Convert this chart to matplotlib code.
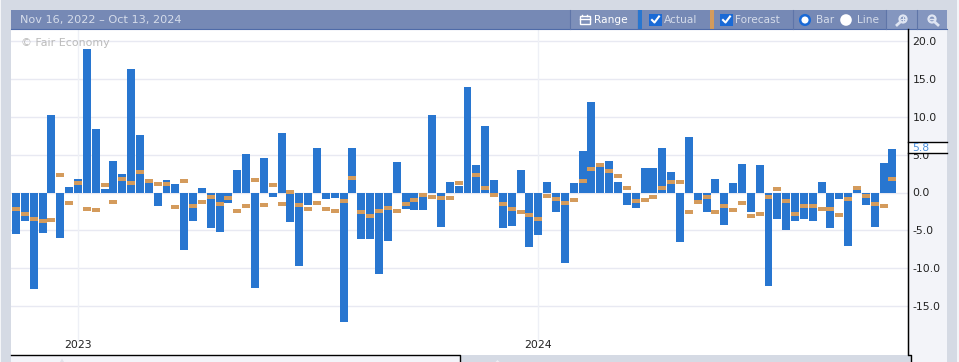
import matplotlib
matplotlib.use('Agg')
import matplotlib.pyplot as plt
from matplotlib.patches import Rectangle, Circle, Polygon
import numpy as np

# Valores
actual = [-5.5, -3.8, -12.7, -5.35, 10.2, -6.0, 0.7, 1.8, 18.9, 8.4,
          0.5, 4.15, 2.4, 16.3, 7.6, 1.3, -1.8, 1.65, 1.1, -7.6,
          -3.8, 0.6, -4.7, -5.2, -1.4, 2.95, 5.05, -12.6, 4.5, -0.6,
          7.85, -3.9, -9.7, -1.65, 5.85, -0.9, -0.75, -17.1, 5.85, -6.15,
          -6.15, -10.75, -6.4, 4.0, -2.2, -2.3, -2.3, 10.2, -4.6, 1.4,
          0.85, 13.9, 3.6, 8.8, 1.65, -4.7, -4.4, 2.95, -7.2, -5.6,
          1.4, -2.55, -9.3, 1.25, 5.45, 11.95, 3.4, 4.15, 1.4, -1.65,
          -2.05, 3.2, 3.2, 5.85, 2.7, -6.55, 7.3, -1.0, -2.55, 1.8,
          -4.3, 1.25, 3.75, -2.55, 3.6, -12.35, -3.5, -4.95, -3.75, -3.5,
          -3.75, 1.4, -4.7, -0.85, -7.05, 0.3, -1.65, -4.6, 3.85, 5.8]
forecast = [-2.2, -2.85, -3.5, -3.75, -3.6, 2.3, -1.4, 1.25, -2.2, -2.3,
            1.0, -1.25, 1.8, 1.25, 2.7, 1.5, 1.1, 1.1, -1.9, 1.5,
            -1.8, -1.25, -0.6, -1.5, -0.7, -2.45, -1.8, 1.65, -1.65, 1.0,
            -1.5, 0.05, -1.65, -2.2, -1.4, -2.2, -2.45, -1.1, 1.9, -2.6,
            -3.1, -2.45, -2.05, -2.45, -1.5, -1.0, -0.35, -0.6, -0.75, -0.75,
            1.25, np.nan, 2.3, 0.6, -0.3, -1.5, -2.15, -2.55, -2.95, -3.5,
            -0.45, -0.85, -1.4, -1.0, 1.5, 3.1, 3.6, 2.85, 2.2, 0.6,
            -1.1, -1.0, -0.6, 0.6, 1.4, 1.4, -2.55, -1.25, -0.6, -2.55,
            -1.8, -2.3, -1.4, -3.1, -2.85, -0.6, 0.45, -1.1, -2.85, -1.8,
            -1.8, -2.2, -2.2, -2.95, -0.85, 0.6, -0.45, -1.5, -1.8, 1.8]
y_ticks = [20, 15, 10, 5, 0, -5, -10, -15]
year_pos = [7, 59]
year_labels = ['2023', '2024']
date_range = 'Nov 16, 2022 \u2013 Oct 13, 2024'
last_value = '5.8'

BG = '#d5dae4'
PANEL = '#f3f4f9'
TOOLBAR = '#7689b5'
BUTTON = '#8496bf'
TXT = '#d5dcea'
BLUE = '#2876d0'
ORANGE = '#d49b5c'
GRID = '#e8e9f2'
W, H = 959, 362

fig = plt.figure(figsize=(W / 100, H / 100), dpi=100, facecolor=BG)

# Fondo y paneles, en pixeles
bg = fig.add_axes([0, 0, 1, 1], zorder=0)
bg.set_xlim(0, W)
bg.set_ylim(H, 0)
bg.axis('off')
bg.add_patch(Rectangle((0, 0), 1, H, fc='#f4f5f8', ec='none'))
bg.add_patch(Rectangle((957, 0), 2, H, fc='#f4f5f8', ec='none'))
bg.add_patch(Rectangle((908, 29), 39, 326, fc=PANEL, ec='none'))
bg.add_patch(Rectangle((911, 355), 36, 7, fc=PANEL, ec='none'))
bg.add_patch(Rectangle((11, 355), 449, 7, fc=PANEL, ec='none'))
bg.add_patch(Polygon([[60, 362], [62, 358.5], [64, 362]], fc='#dfe2ea', ec='none'))
bg.add_patch(Polygon([[495.5, 362], [497.5, 360], [499.5, 362]], fc='#eceef3', ec='none'))

# Grafico principal
ax = fig.add_axes([11 / W, 1 - 355 / H, 896.5 / W, 325 / H], zorder=1)
x = np.arange(len(actual))
ax.bar(x, actual, width=0.9, color=BLUE, zorder=2)
ax.bar(x, [0.53] * len(x), bottom=np.array(forecast) - 0.265, width=0.9, color=ORANGE, zorder=3)
for p in year_pos:
    ax.axvline(p, ymin=0.045, color='#eef0f6', lw=1, zorder=1)
ax.set_xlim(-0.565, 100.7)
ax.set_ylim(-21.44, 21.44)
ax.yaxis.tick_right()
ax.set_yticks(y_ticks, [f'{v:.1f}' for v in y_ticks])
ax.set_xticks(year_pos, year_labels)
ax.tick_params(axis='y', length=0, pad=3.6, labelsize=7.8, labelcolor='#222222')
ax.tick_params(axis='x', length=0, pad=-10.5, labelsize=7.8, labelcolor='#222222')
ax.grid(axis='y', color=GRID, lw=1, zorder=1)
ax.set_axisbelow(True)
for s in ['top', 'left']:
    ax.spines[s].set_visible(False)
ax.spines['right'].set_color('black')
ax.spines['bottom'].set_visible(False)

# Barra de herramientas y detalles, en pixeles
top = fig.add_axes([0, 0, 1, 1], zorder=2)
top.set_xlim(0, W)
top.set_ylim(H, 0)
top.axis('off')
top.patch.set_alpha(0)
top.text(21, 43.5, '\u00a9 Fair Economy', color='#bbbbbb', fontsize=7.9, va='center', ha='left')
top.add_patch(Rectangle((11, 10), 936, 19, fc=TOOLBAR, ec='none'))
top.plot([11, 947], [29, 29], color='#4f6ba8', lw=0.8)
top.add_patch(Rectangle((570, 10), 67, 19, fc='#7e90b9', ec='none'))
top.add_patch(Rectangle((886, 10), 30.5, 19, fc=BUTTON, ec='none'))
top.add_patch(Rectangle((917.5, 10), 29.5, 19, fc=BUTTON, ec='none'))
for sx in [569.5, 792.5, 885.5, 916.8]:
    top.plot([sx, sx], [10, 29], color='#5f75a8', lw=0.8)
top.add_patch(Rectangle((638, 10), 4, 19, fc=BLUE, ec='none'))
top.add_patch(Rectangle((710, 10), 3.5, 19, fc=ORANGE, ec='none'))


def label(px, s, c=TXT):
    top.text(px, 20, s, color=c, fontsize=7.6, va='center', ha='left')


top.text(20, 20, date_range, color=TXT, fontsize=8.1, va='center', ha='left')
label(594, 'Range', 'white')
label(664, 'Actual')
label(735, 'Forecast')
label(816, 'Bar')
label(857, 'Line')

# Icono de calendario
top.add_patch(Rectangle((579.5, 16), 10, 8, fc='none', ec='white', lw=1))
top.plot([579.5, 589.5], [19, 19], color='white', lw=1)
top.plot([582, 582], [14.5, 16], color='white', lw=1)
top.plot([587, 587], [14.5, 16], color='white', lw=1)

# Casillas
for cx in [649, 720]:
    top.add_patch(Rectangle((cx, 13.5), 13, 12, fc='#1a6ad6', ec='none'))
    top.plot([cx + 3, cx + 5.5, cx + 10], [20, 22.5, 16.5], color='white', lw=1.5)

# Botones de radio
top.add_patch(Circle((805, 20), 4.8, fc='white', ec='#1a6ad6', lw=1.8))
top.add_patch(Circle((846, 20), 5.8, fc='white', ec='none'))

# Lupas
ICON = '#dfe5f2'
top.add_patch(Circle((903, 19), 3.5, fc='none', ec=ICON, lw=1.6))
top.plot([900.5, 897, ], [21.8, 25], color=ICON, lw=2)
top.plot([901.3, 904.7], [19, 19], color=ICON, lw=0.8)
top.plot([903, 903], [17.3, 20.7], color=ICON, lw=0.8)
top.add_patch(Circle((932, 19), 3.5, fc='none', ec=ICON, lw=1.6))
top.plot([934.5, 938], [21.8, 25], color=ICON, lw=2)
top.plot([930, 934], [19, 19], color=ICON, lw=1)

# Lineas negras inferiores
top.plot([11, 459.5, 459.5], [355.3, 355.3, H], color='black', lw=1)
top.plot([907.5, 907.5, 911, 911], [29, 355.3, 355.3, H], color='black', lw=1)

# Etiqueta del ultimo valor
top.add_patch(Rectangle((908, 142.3), 39, 11, fc='white', ec='none'))
top.plot([908, 947], [142.3, 142.3], color='black', lw=1)
top.plot([908, 947], [153.3, 153.3], color='black', lw=1)
top.text(912, 148, last_value, color='#4a8fdc', fontsize=7.8, va='center', ha='left')

plt.savefig('out.png', dpi=100, facecolor=BG)
